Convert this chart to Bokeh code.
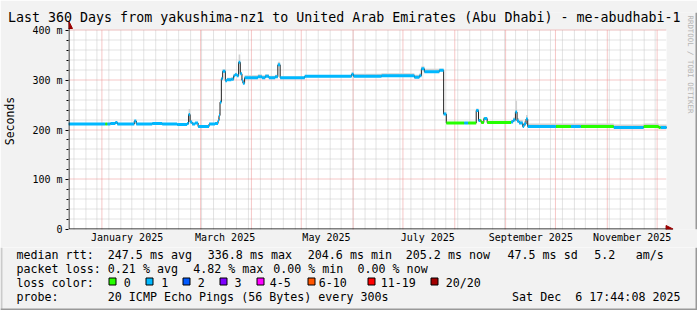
import math
import datetime as dt
from bokeh.plotting import figure
from bokeh.layouts import column
from bokeh.models import Range1d, FixedTicker, Label, Arrow, NormalHead
from bokeh.embed import file_html
from bokeh.resources import INLINE

# ---------------- data ----------------
end_time = dt.datetime(2025, 12, 6, 17, 44, 8)
span_days = 360

# median RTT (ms) as a step series: value holds from `day` until the next entry
day = [0.0, 25.2, 28.2, 29.4, 39.6, 40.8, 50.4, 56.4, 65.4, 71.4,
       72.3, 73.2, 74.4, 76.2, 78.0, 84.6, 88.2, 90.0, 90.6, 91.2,
       92.0, 92.8, 94.4, 95.4, 98.0, 99.4, 100.2, 101.4, 102.4, 103.4,
       104.4, 105.0, 106.0, 110.4, 114.0, 116.4, 118.4, 120.6, 124.4, 126.0,
       127.4, 142.2, 170.4, 171.6, 188.4, 208.2, 211.2, 212.4, 214.2, 223.2,
       225.8, 227.4, 245.4, 246.8, 248.4, 250.0, 252.0, 266.4, 267.6, 269.0,
       270.0, 271.2, 273.4, 274.2, 275.4, 276.4, 328.2, 346.2, 355.2]
median_ms = [212, 213, 215, 212, 218, 212, 213, 212, 211, 213,
             231, 216, 212, 214, 207, 212, 213, 219, 229, 256,
             303, 318, 299, 301, 302, 309, 311, 309, 336, 313,
             300, 294, 305, 305, 307, 305, 308, 305, 307, 331,
             305, 308, 312, 308, 309, 306, 309, 323, 317, 320,
             232, 214, 239, 219, 215, 223, 215, 216, 220, 236,
             218, 214, 207, 212, 222, 207, 205, 207, 205]
# spread of the ping "smoke" above the median (ms)
smoke_above = [2, 2, 2, 2, 2, 2, 2, 2, 2, 3,
               11, 3, 2, 2, 2, 2, 3, 6, 6, 4,
               4, 4, 4, 4, 4, 4, 4, 4, 16, 4,
               4, 4, 5, 5, 5, 5, 4, 4, 4, 6,
               2, 2, 4, 5, 5, 5, 5, 5, 6, 3,
               3, 2, 4, 3, 3, 3, 3, 4, 5, 23,
               6, 6, 6, 6, 8, 6, 6, 6, 6]
smoke_below = 2

# packet-loss colour class of the median line (index into loss_colors)
loss_day = [0.0, 22.2, 23.4, 227.4, 238.2, 240.6, 245.4, 247.8, 250.2, 252.0,
            266.4, 293.4, 302.4, 308.4, 328.2, 346.2, 356.4]
loss_class = [1, 0, 1, 0, 1, 0, 1, 0, 1, 0,
              1, 0, 1, 0, 1, 0, 1]

loss_labels = ["0", "1", "2", "3", "4-5", "6-10", "11-19", "20/20"]
loss_colors = ["#26ff00", "#00b8ff", "#0059ff", "#7e00ff", "#ff00ff",
               "#ff5500", "#ff0000", "#a10000"]

y_ticks = [0, 100, 200, 300, 400]
y_tick_labels = ["0", "100 m", "200 m", "300 m", "400 m"]
y_minor = [20, 40, 60, 80, 120, 140, 160, 180, 220, 240, 260, 280, 320, 340, 360, 380]
label_months = [1, 3, 5, 7, 9, 11]
label_names = ["January 2025", "March 2025", "May 2025", "July 2025",
               "September 2025", "November 2025"]
grid_months = [1, 3, 4, 5, 6, 7, 8, 9, 10, 11, 12]

title = "Last 360 Days from yakushima-nz1 to United Arab Emirates (Abu Dhabi) - me-abudhabi-1"
rtt_stats = ["247.5 ms avg", "336.8 ms max", "204.6 ms min", "205.2 ms now",
             "47.5 ms sd", "5.2", "am/s"]
loss_stats = ["0.21 % avg", "4.82 % max", "0.00 % min", "0.00 % now"]
probe_text = "20 ICMP Echo Pings (56 Bytes) every 300s"
stamp_text = "Sat Dec\u00a0\u00a06 17:44:08 2025"

# ---------------- layout constants ----------------
W, H = 697, 310
HA = 247                  # height of the graph figure; legend figure below
FL, FT, FB = 66, 12, 229  # graph frame: left, top, bottom (canvas px)
PPD = 600.0 / span_days   # px per day
PPM = 199.0 / 400.0       # px per ms
FONT = "DejaVu Sans Mono"
BG = "#F2F2F2"
GRID_MINOR = "#c6c6c6"
GRID_MAJOR = "#ec8f8f"

start_time = end_time - dt.timedelta(days=span_days)


def dfs(t):
    return (t - start_time).total_seconds() / 86400.0


label_days = [dfs(dt.datetime(2025, m, 16)) for m in label_months]
month_days = [dfs(dt.datetime(2025, m, 1)) for m in grid_months]
sundays = []
t = dt.datetime(2024, 12, 15)
while t < end_time:
    sundays.append(dfs(t))
    t += dt.timedelta(days=7)


def snap_day(d):
    px = FL + d * PPD
    return (math.floor(px) + 0.5 - FL) / PPD


def snap_ms(v):
    sy = FB - v * PPM
    return (FB - (math.floor(sy - 0.5) + 0.5)) / PPM


# ---------------- graph figure ----------------
pA = figure(width=W, height=HA, output_backend="svg", toolbar_location=None,
            x_range=Range1d(0, (W - FL) / PPD), y_range=Range1d(0, (FB - FT) / PPM),
            min_border_left=FL, min_border_right=0, min_border_top=FT,
            min_border_bottom=HA - FB, title=title)
pA.background_fill_color = BG
pA.border_fill_color = BG
pA.outline_line_color = None
pA.xgrid.visible = False
pA.ygrid.visible = False

tt = pA.title
tt.align = "right"
tt.offset = 17
tt.vertical_align = "bottom"
tt.standoff = -25.6
tt.text_font = FONT
tt.text_font_size = "13.3px"
tt.text_font_style = "normal"
tt.text_color = "black"

# white graph canvas
pA.quad(left=[0], right=[span_days], bottom=[0], top=[400], fill_color="white", line_color=None)

# grid lines (dotted), snapped to pixel centres
vx_minor = [snap_day(d) for d in sundays]
vx_major = [snap_day(d) for d in month_days]
hy_minor = [snap_ms(v) for v in y_minor]
hy_major = [snap_ms(v) for v in y_ticks[1:]]
pA.segment(x0=vx_minor, x1=vx_minor, y0=[0] * len(vx_minor), y1=[400] * len(vx_minor),
           line_color=GRID_MINOR, line_width=1, line_dash="1 1")
pA.segment(x0=[0] * len(hy_minor), x1=[span_days] * len(hy_minor), y0=hy_minor, y1=hy_minor,
           line_color=GRID_MINOR, line_width=1, line_dash="1 1")
pA.segment(x0=vx_major, x1=vx_major, y0=[0] * len(vx_major), y1=[400] * len(vx_major),
           line_color=GRID_MAJOR, line_width=1, line_dash="1 1")
pA.segment(x0=[0] * len(hy_major), x1=[span_days] * len(hy_major), y0=hy_major, y1=hy_major,
           line_color=GRID_MAJOR, line_width=1, line_dash="1 1")

# axes
xa = pA.xaxis[0]
xa.ticker = FixedTicker(ticks=label_days)
xa.major_label_overrides = {d: n for d, n in zip(label_days, label_names)}
xa.major_tick_out = 0
xa.major_tick_in = 0
xa.minor_tick_out = 0
xa.minor_tick_in = 0
xa.major_label_standoff = 2
xa.axis_line_color = None
xa.major_label_text_font = FONT
xa.major_label_text_font_size = "10px"
xa.major_label_text_color = "black"

ya = pA.yaxis[0]
ya.ticker = FixedTicker(ticks=y_ticks, minor_ticks=y_minor)
ya.major_label_overrides = {v: s for v, s in zip(y_ticks, y_tick_labels)}
ya.major_tick_out = 3
ya.major_tick_in = 0
ya.minor_tick_out = 2
ya.minor_tick_in = 0
ya.major_label_standoff = 3
ya.axis_line_color = None
ya.major_label_text_font = FONT
ya.major_label_text_font_size = "10px"
ya.major_label_text_color = "black"
ya.axis_label = "Seconds"
ya.axis_label_text_font = FONT
ya.axis_label_text_font_size = "11.5px"
ya.axis_label_text_font_style = "normal"
ya.axis_label_text_color = "black"
ya.axis_label_standoff = 12

# ---------------- series ----------------
bps = sorted(set(day) | set(loss_day))
bps.append(span_days)


def lookup(xs, vals, x):
    i = 0
    for k, xv in enumerate(xs):
        if xv <= x:
            i = k
    return vals[i]


seg_x0, seg_x1, seg_y, seg_c, sm_x, sm_lo, sm_hi = [], [], [], [], [], [], []
for a, b in zip(bps[:-1], bps[1:]):
    m = lookup(day, median_ms, a)
    s = lookup(day, smoke_above, a)
    c = loss_colors[lookup(loss_day, loss_class, a)]
    seg_x0.append(a); seg_x1.append(b); seg_y.append(m); seg_c.append(c)
    sm_x += [a, b]
    sm_lo += [m - smoke_below, m - smoke_below]
    sm_hi += [m + s, m + s]

pA.varea(x=sm_x, y1=sm_lo, y2=sm_hi, fill_color="#d2d2d2")
pA.step(x=day + [span_days], y=median_ms + [median_ms[-1]], mode="after",
        line_color="#202020", line_width=1)
pA.segment(x0=seg_x0, y0=seg_y, x1=seg_x1, y1=seg_y, line_color=seg_c, line_width=3)

# axis lines with arrow heads
ax_x = 0.5 / PPD
ax_y = (FB - 228.5) / PPM
pA.add_layout(Arrow(x_start=ax_x, y_start=ax_y, x_end=(672.5 - FL) / PPD, y_end=ax_y,
                    line_color="black", line_width=1,
                    end=NormalHead(size=7, fill_color="#990000", line_color="#990000")))
pA.add_layout(Arrow(x_start=ax_x, y_start=ax_y, x_end=ax_x, y_end=(FB - 21) / PPM,
                    line_color="black", line_width=1,
                    end=NormalHead(size=7, fill_color="#990000", line_color="#990000")))

# vertical credit text and right shading
pA.add_layout(Label(x=(690 - FL) / PPD, y=(FB - 15) / PPM, text="RRDTOOL / TOBI OETIKER",
                    text_font=FONT, text_font_size="7.4px", text_color="#b4b4b4",
                    text_align="left", text_baseline="middle", angle=-math.pi / 2))
pA.quad(left=[(W - 2 - FL) / PPD], right=[(W - FL) / PPD], bottom=[0], top=[(FB - FT) / PPM],
        fill_color="#999999", line_color=None)

# ---------------- legend figure ----------------
HB = H - HA
pB = figure(width=W, height=HB, output_backend="svg", toolbar_location=None,
            x_range=Range1d(0, W), y_range=Range1d(H, HA),
            x_axis_type=None, y_axis_type=None,
            min_border_left=0, min_border_right=0, min_border_top=0, min_border_bottom=0)
pB.background_fill_color = BG
pB.border_fill_color = BG
pB.outline_line_color = None
pB.grid.visible = False
# keep the legend figure's frame independent of the graph frame
for fig_ in (pA, pB):
    try:
        fig_.frame_align = False
    except Exception:
        pass

LS = "11.66px"


def lab(text, x, y, align="left"):
    pB.add_layout(Label(x=x, y=y, text=text, text_font=FONT, text_font_size=LS,
                        text_align=align, text_baseline="middle", text_color="black"))


lab("median rtt:", 16, 254)
for s_, x_ in zip(rtt_stats, [107.3, 207.3, 307.3, 405.3, 507, 593.7, 635.3]):
    lab(s_, x_, 254)
lab("packet loss:", 16, 268)
for s_, x_ in zip(loss_stats, [107.3, 192.7, 272.7, 357]):
    lab(s_, x_, 268)
lab("loss color:", 16, 282)
box_x = [108, 145, 182, 219, 256, 307, 367, 430]
text_x = [123.3, 160.7, 197.3, 234, 269.3, 318.3, 380.3, 445.3]
for x_, name in zip(text_x, loss_labels):
    lab(name, x_, 282)
lab("probe:", 16, 296)
lab(probe_text, 107.3, 296)
lab(stamp_text, 680, 296, align="right")

pB.quad(left=[b + 0.5 for b in box_x], right=[b + 7.5 for b in box_x],
        top=[277.5] * len(box_x), bottom=[284.5] * len(box_x),
        fill_color=loss_colors, line_color="black", line_width=1)

# shading of the image border
pB.quad(left=[0, W - 2, 0], right=[2, W, W], top=[HA, HA, H - 2], bottom=[H, H, H],
        fill_color=["#cbcbcb", "#999999", "#999999"], line_color=None)

root = column(pA, pB, spacing=0)
open("out.html", "w").write(file_html(root, INLINE))
